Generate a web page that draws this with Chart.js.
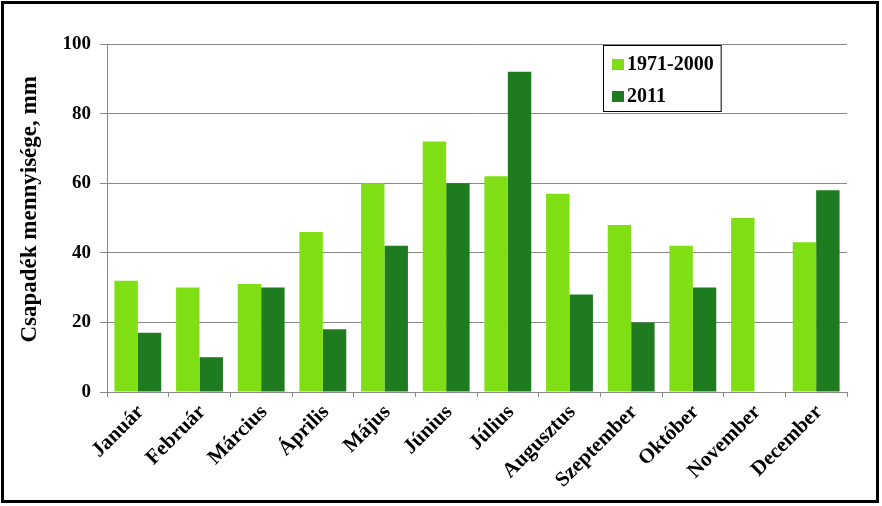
<!DOCTYPE html>
<html>
<head>
<meta charset="utf-8">
<script src="https://cdn.jsdelivr.net/npm/chart.js@4"></script>
<style>
  html, body { margin: 0; padding: 0; background: #fff; }
  #wrap { position: relative; width: 882px; height: 506px; }
  #frame { position: absolute; left: 1px; top: 1px; width: 878px; height: 502px;
           border: 3px solid #000; box-sizing: border-box; pointer-events: none; }
  canvas { position: absolute; left: 0; top: 0; }
</style>
</head>
<body>
<div id="wrap">
  <canvas id="chart" width="882" height="506"></canvas>
  <div id="frame"></div>
</div>
<script>
const months = ["Január", "Február", "Március", "Április", "Május", "Június",
  "Július", "Augusztus", "Szeptember", "Október", "November", "December"];
const avg7100 = [32, 30, 31, 46, 60, 72, 62, 57, 48, 42, 50, 43];
const rain2011 = [17, 10, 30, 18, 42, 60, 92, 28, 20, 30, 0, 58];
const yTicks = [0, 20, 40, 60, 80, 100];

const FONT = "'Liberation Serif', 'Times New Roman', serif";
const GRID = "#888888";

// legend drawn inside the plot, top right, with a black box
const boxLegend = {
  id: "boxLegend",
  afterDraw(c) {
    const ctx = c.ctx;
    const x0 = 603, y0 = 45;
    ctx.save();
    ctx.font = "bold 20px " + FONT;
    let w = 0;
    c.data.datasets.forEach(d => { w = Math.max(w, ctx.measureText(d.label).width); });
    const boxW = 24 + w + 7, boxH = 66;
    ctx.fillStyle = "#fff";
    ctx.fillRect(x0, y0, boxW, boxH);
    ctx.strokeStyle = "#000";
    ctx.lineWidth = 1;
    ctx.strokeRect(x0 + 0.5, y0 + 0.5, boxW, boxH);
    ctx.textBaseline = "middle";
    c.data.datasets.forEach((d, i) => {
      const cy = y0 + 19 + i * 32;
      ctx.fillStyle = d.backgroundColor;
      ctx.fillRect(x0 + 9, cy - 5, 12, 11);
      ctx.fillStyle = "#000";
      ctx.fillText(d.label, x0 + 24, cy + 1);
    });
    ctx.restore();
  }
};

new Chart(document.getElementById("chart"), {
  type: "bar",
  data: {
    labels: months,
    datasets: [
      { label: "1971-2000", data: avg7100, backgroundColor: "#80DF14" },
      { label: "2011", data: rain2011, backgroundColor: "#1F7B1F" }
    ]
  },
  options: {
    responsive: false,
    animation: false,
    layout: { padding: { left: 7, right: 35, top: 44, bottom: 0 } },
    datasets: { bar: { categoryPercentage: 0.76, barPercentage: 1 } },
    plugins: { legend: { display: false }, tooltip: { enabled: false } },
    scales: {
      x: {
        afterFit: s => { s.height = 114; },
        afterCalculateLabelRotation: s => { s.labelRotation = 45; },
        grid: { offset: true, drawOnChartArea: false, color: GRID, tickLength: 5 },
        border: { color: GRID },
        ticks: {
          color: "#000", maxRotation: 45, minRotation: 45, autoSkip: false,
          labelOffset: 3, padding: 3,
          font: { family: FONT, size: 21, weight: "bold" }
        }
      },
      y: {
        min: 0, max: 100,
        afterFit: s => { s.width = 100; },
        afterBuildTicks: s => { s.ticks = yTicks.map(v => ({ value: v })); },
        grid: { color: GRID, tickLength: 7 },
        border: { color: GRID },
        ticks: { color: "#000", padding: 9, font: { family: FONT, size: 19, weight: "bold" } },
        title: {
          display: true, text: "\u00a0\u00a0\u00a0Csapadék mennyisége, mm", color: "#000",
          padding: { top: 9, bottom: 0 },
          font: { family: FONT, size: 23, weight: "bold", lineHeight: 1.2 }
        }
      }
    }
  },
  plugins: [boxLegend]
});
</script>
</body>
</html>
